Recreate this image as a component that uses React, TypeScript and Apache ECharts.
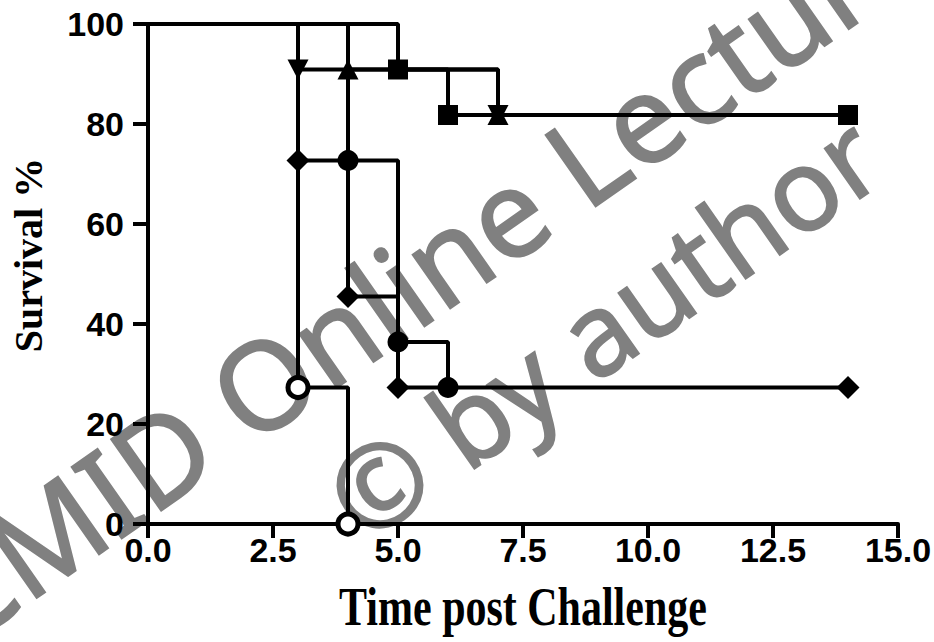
import React, { useEffect, useRef } from "react";
import * as echarts from "echarts";

// Kaplan–Meier survival curves (time in days post challenge, survival in %)
const timeSquare = [0, 5, 6, 14];
const survSquare = [100, 90.9, 81.8, 81.8];

const timeTriDown = [0, 3, 7, 14];
const survTriDown = [100, 90.9, 81.8, 81.8];

const timeTriUp = [0, 4, 7, 14];
const survTriUp = [100, 90.9, 81.8, 81.8];

const timeDiamond = [0, 3, 4, 5, 14];
const survDiamond = [100, 72.7, 45.5, 27.3, 27.3];

const timeCircle = [0, 4, 5, 6];
const survCircle = [100, 72.7, 36.4, 27.3];

const timeOpen = [0, 3, 4];
const survOpen = [100, 27.3, 0];

// which points carry a marker (1 = marker drawn)
const markSquare = [0, 1, 1, 1];
const markTriDown = [0, 1, 1, 0];
const markTriUp = [0, 1, 1, 0];
const markDiamond = [0, 1, 1, 1, 1];
const markCircle = [0, 1, 1, 1];
const markOpen = [0, 1, 1];

const xTicks = [0, 2.5, 5, 7.5, 10, 12.5, 15];
const yTicks = [0, 20, 40, 60, 80, 100];

const xTitle = "Time post Challenge";
const yTitle = "Survival %";
const watermarkLine1 = "CMID Online Lecture";
const watermarkLine2 = "\u00A9 by author";

function buildData(t: number[], s: number[], m: number[]) {
  return t.map((x, i) =>
    m[i] ? { value: [x, s[i]] } : { value: [x, s[i]], symbol: "none" }
  );
}

export default function App() {
  const ref = useRef<HTMLDivElement>(null);
  useEffect(() => {
    if (!ref.current) return;
    const chart = echarts.init(ref.current, undefined, { renderer: "svg" });
    const lineStyle = { color: "#000", width: 4 };
    const base = {
      type: "line",
      step: "end",
      clip: false,
      lineStyle,
      itemStyle: { color: "#000" },
      emphasis: { disabled: true },
    };
    const tickFont = {
      fontFamily: "'Liberation Sans', Arial, sans-serif",
      fontWeight: "bold",
      fontSize: 34,
      color: "#000",
    };
    const serif = "'Liberation Serif', 'Times New Roman', serif";
    const rot = (35 * Math.PI) / 180;
    const wmStyle = {
      fill: "#808080",
      stroke: "#808080",
      lineWidth: 2,
      textAlign: "center",
      textVerticalAlign: "middle",
    };
    chart.setOption({
      animation: false,
      backgroundColor: "#fff",
      grid: {
        left: 148,
        right: 36,
        top: 24,
        bottom: 118,
        containLabel: false,
        outerBoundsMode: "none",
      },
      graphic: [
        {
          type: "text",
          z: -10,
          x: 423,
          y: 270,
          rotation: rot,
          silent: true,
          style: {
            ...wmStyle,
            text: watermarkLine1,
            font: "122px 'Noto Sans', sans-serif",
          },
        },
        {
          type: "text",
          z: -10,
          x: 602,
          y: 325,
          rotation: rot,
          silent: true,
          style: {
            ...wmStyle,
            text: watermarkLine2,
            font: "114px 'Noto Sans', sans-serif",
          },
        },
        {
          type: "text",
          x: 523,
          y: 607,
          scaleY: 1.3,
          silent: true,
          style: {
            text: xTitle,
            fill: "#000",
            font: "bold 42px " + serif,
            textAlign: "center",
            textVerticalAlign: "middle",
          },
        },
      ],
      xAxis: {
        type: "value",
        min: xTicks[0],
        max: xTicks[xTicks.length - 1],
        interval: 2.5,
        axisLine: { show: true, lineStyle: { color: "#000", width: 4 } },
        axisTick: { show: true, length: 14, lineStyle: { color: "#000", width: 4 } },
        axisLabel: {
          ...tickFont,
          margin: 9,
          formatter: (v: number) => v.toFixed(1),
        },
        splitLine: { show: false },
      },
      yAxis: {
        type: "value",
        min: yTicks[0],
        max: yTicks[yTicks.length - 1],
        interval: 20,
        name: yTitle,
        nameLocation: "middle",
        nameGap: 100,
        nameTextStyle: {
          fontFamily: serif,
          fontWeight: "bold",
          color: "#000",
          fontSize: 40,
          padding: [0, 0, 0, 38],
        },
        axisLine: { show: true, lineStyle: { color: "#000", width: 4 } },
        axisTick: { show: true, length: 15, lineStyle: { color: "#000", width: 4 } },
        axisLabel: { ...tickFont, margin: 24 },
        splitLine: { show: false },
      },
      series: [
        {
          ...base,
          name: "Square",
          symbol: "rect",
          symbolSize: 20,
          data: buildData(timeSquare, survSquare, markSquare),
        },
        {
          ...base,
          name: "Triangle down",
          symbol: "triangle",
          symbolRotate: 180,
          symbolSize: [21, 20],
          data: buildData(timeTriDown, survTriDown, markTriDown),
        },
        {
          ...base,
          name: "Triangle up",
          symbol: "triangle",
          symbolSize: [21, 20],
          data: buildData(timeTriUp, survTriUp, markTriUp),
        },
        {
          ...base,
          name: "Diamond",
          symbol: "diamond",
          symbolSize: 23,
          data: buildData(timeDiamond, survDiamond, markDiamond),
        },
        {
          ...base,
          name: "Circle",
          symbol: "circle",
          symbolSize: 21,
          data: buildData(timeCircle, survCircle, markCircle),
        },
        {
          ...base,
          name: "Open circle",
          symbol: "circle",
          symbolSize: 20,
          itemStyle: { color: "#fff", borderColor: "#000", borderWidth: 5 },
          data: buildData(timeOpen, survOpen, markOpen),
        },
      ],
    });
    return () => chart.dispose();
  }, []);
  return (
    <div
      ref={ref}
      style={{ position: "fixed", left: 0, top: 0, width: 934, height: 642 }}
    />
  );
}
